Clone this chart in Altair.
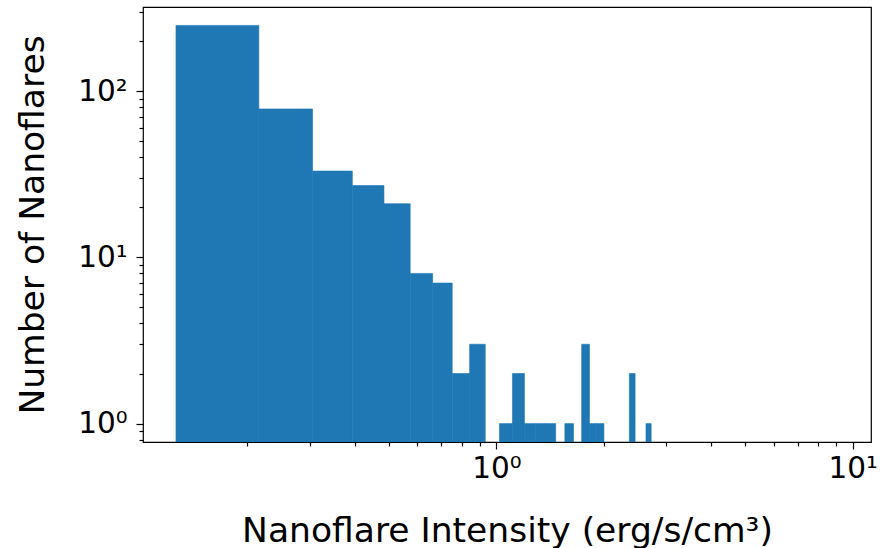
import altair as alt
import pandas as pd
import numpy as np

# Histogram (linear bins, log-log display)
bin_start = 0.1262
bin_width = 0.0894
counts = [248, 78, 33, 27, 21, 8, 7, 2, 3, 0,
          1, 2, 1, 1, 1, 0, 1, 0, 3, 1,
          1, 0, 0, 0, 0, 2, 0, 0, 1, 0]

x_major = [1, 10]
x_minor = [0.2, 0.3, 0.4, 0.5, 0.6, 0.7, 0.8, 0.9, 2, 3, 4, 5, 6, 7, 8, 9]
y_major = [1, 10, 100]
y_minor = [0.8, 0.9, 2, 3, 4, 5, 6, 7, 8, 9, 20, 30, 40, 50, 60, 70, 80, 90, 200, 300]
x_domain = [0.102, 11.25]
y_domain = [0.775, 320]

k = np.arange(len(counts))
left = bin_start + bin_width * k
df = pd.DataFrame({"left": left, "right": left + bin_width, "count": counts})
df = df[df["count"] > 0]

FONT = "DejaVu Sans"
sup_expr = "datum.value == 1 ? '10⁰' : (datum.value == 10 ? '10¹' : '10²')"

xscale = alt.Scale(type="log", domain=x_domain, nice=False)
yscale = alt.Scale(type="log", domain=y_domain, nice=False)

base = alt.Chart(df)

bars = base.mark_rect(color="#1f77b4", stroke="#1f77b4", strokeWidth=0.6, clip=True).encode(
    x=alt.X("left:Q", scale=xscale,
            axis=alt.Axis(values=x_major, tickSize=7, labelExpr=sup_expr,
                          orient="bottom", labelPadding=5,
                          title="Nanoflare Intensity (erg/s/cm³)",
                          titleY=99, titleBaseline="alphabetic")),
    x2="right:Q",
    y=alt.Y("count:Q", scale=yscale,
            axis=alt.Axis(values=y_major, tickSize=7, labelExpr=sup_expr,
                          orient="left", labelPadding=9,
                          title="Number of Nanoflares",
                          titleX=-100, titleBaseline="alphabetic")),
    y2=alt.datum(y_domain[0]),
)

minor = base.mark_rect(opacity=0).encode(
    x=alt.X("left:Q", scale=xscale,
            axis=alt.Axis(values=x_minor, tickSize=4, labels=False,
                          orient="bottom", title="")),
    x2="right:Q",
    y=alt.Y("count:Q", scale=yscale,
            axis=alt.Axis(values=y_minor, tickSize=4, labels=False,
                          orient="left", title="")),
    y2=alt.datum(y_domain[0]),
)

chart = alt.layer(bars, minor).resolve_axis(
    x="independent", y="independent"
).properties(
    width=728, height=435,
    padding={"left": 143, "top": 7, "right": 24, "bottom": 106},
    autosize="none",
    background="white",
).configure_view(
    stroke="black", strokeWidth=1.2
).configure_axis(
    domain=False, grid=False,
    tickColor="black", tickWidth=1.2,
    labelFont=FONT, labelFontSize=29.5, labelColor="black",
    titleFont=FONT, titleFontSize=34.5, titleFontWeight="normal", titleColor="black",
)

chart.save("out.html", embed_options={"renderer": "svg", "actions": False})
